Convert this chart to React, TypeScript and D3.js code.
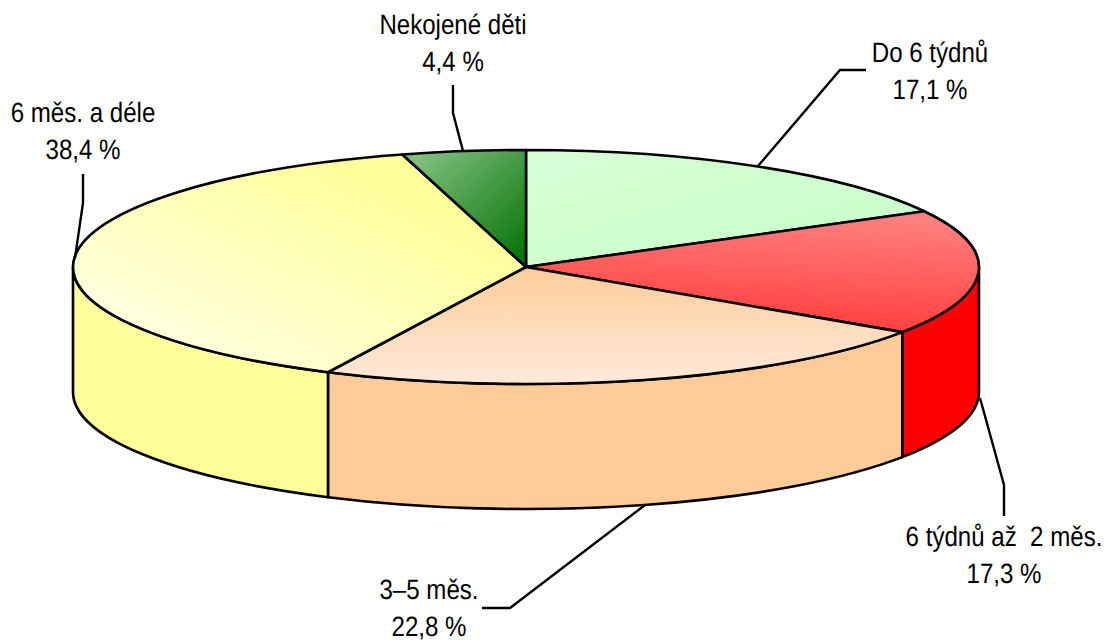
import React from "react";
import * as d3 from "d3";

const categories = ["Do 6 týdnů", "6 týdnů až  2 měs.", "3–5 měs.", "6 měs. a déle", "Nekojené děti"];
const values = [17.1, 17.3, 22.8, 38.4, 4.4];
const valueLabels = ["17,1 %", "17,3 %", "22,8 %", "38,4 %", "4,4 %"];
const sideColors = ["#ccffcc", "#ff0000", "#ffcc99", "#ffff99", "#008000"];
const gradients = [
  { x1: 0, y1: 0, x2: 1, y2: 1, a: "#d6ffd6", b: "#c8ffc8" },
  { x1: 0.6, y1: 0, x2: 0.4, y2: 1, a: "#ff8080", b: "#ff3a3a" },
  { x1: 0.5, y1: 0, x2: 0.5, y2: 1, a: "#ffcc99", b: "#ffeadb" },
  { x1: 0.8, y1: 0.2, x2: 0.15, y2: 0.85, a: "#ffff99", b: "#ffffe0" },
  { x1: 0, y1: 0, x2: 1, y2: 1, a: "#8cc78c", b: "#007000" },
];
const leaders: [number, number][][] = [
  [[758, 166], [840, 70], [866, 70]],
  [[980, 398], [1004, 485], [1004, 516]],
  [[645, 505], [510, 608], [482, 608]],
  [[75, 258], [83, 203], [83, 174]],
  [[463, 151], [453, 113], [453, 85]],
];
const labelPos: [number, number][] = [
  [930, 62],
  [1004, 546],
  [429, 599],
  [83, 122],
  [453, 34],
];

const W = 1106, H = 640, cx = 526, cy = 267, rx = 453, ry = 117, depth = 125;

const pt = (a: number, dy = 0) => [cx + rx * Math.sin(a), cy - ry * Math.cos(a) + dy];
const wall = (a0: number, a1: number) => {
  const s = pt(a0), e = pt(a1), s2 = pt(a0, depth), e2 = pt(a1, depth);
  return `M${s}A${rx},${ry} 0 0 1 ${e}L${e2}A${rx},${ry} 0 0 0 ${s2}Z`;
};

export default function App() {
  const arcs = d3.pie<number>().sort(null).startAngle(0).endAngle(2 * Math.PI)(values);
  const arcGen = d3.arc<d3.PieArcDatum<number>>().innerRadius(0).outerRadius(rx);
  const line = d3.line();
  const lo = Math.PI / 2, hi = (3 * Math.PI) / 2;
  return (
    <svg width={W} height={H} style={{ position: "absolute", left: 0, top: 0 }}>
      <defs>
        {gradients.map((g, i) => (
          <linearGradient key={i} id={`g${i}`} x1={g.x1} y1={g.y1} x2={g.x2} y2={g.y2}>
            <stop offset="0" stopColor={g.a} />
            <stop offset="1" stopColor={g.b} />
          </linearGradient>
        ))}
      </defs>
      {arcs.map((d, i) => {
        const a0 = Math.max(d.startAngle, lo), a1 = Math.min(d.endAngle, hi);
        return a1 > a0 ? (
          <path key={i} d={wall(a0, a1)} fill={sideColors[i]} stroke="#000" strokeWidth={2.6} strokeLinejoin="round" />
        ) : null;
      })}
      <g transform={`translate(${cx},${cy}) scale(1,${ry / rx})`}>
        {arcs.map((d, i) => (
          <path key={i} d={arcGen(d)!} fill={`url(#g${i})`} stroke="#000" strokeWidth={2.6} strokeLinejoin="round" vectorEffect="non-scaling-stroke" />
        ))}
      </g>
      {leaders.map((l, i) => (
        <path key={i} d={line(l)!} fill="none" stroke="#000" strokeWidth={2.4} />
      ))}
      {categories.map((c, i) => (
        <g key={i} transform={`translate(${labelPos[i][0]},${labelPos[i][1]}) scale(0.86,1)`} fontFamily="Liberation Sans" fontSize={28} textAnchor="middle" fill="#000" textRendering="geometricPrecision">
          <text x={0} y={0} xmlSpace="preserve" style={{ whiteSpace: "pre" }}>{c}</text>
          <text x={0} y={37}>{valueLabels[i]}</text>
        </g>
      ))}
    </svg>
  );
}
